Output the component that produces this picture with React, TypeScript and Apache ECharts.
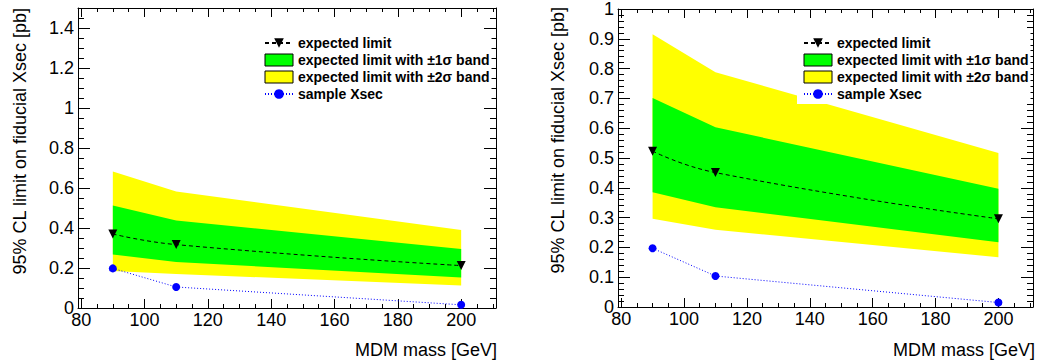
import React, { useEffect, useRef } from "react";
import * as echarts from "echarts";

// ---- data ----
const masses = [90, 110, 200];

// left panel
const expectedL = [0.37, 0.317, 0.212];
const sig1LoL = [0.267, 0.23, 0.153];
const sig1HiL = [0.512, 0.438, 0.295];
const sig2LoL = [0.185, 0.17, 0.113];
const sig2HiL = [0.683, 0.583, 0.39];
const xsecL = [0.198, 0.105, 0.016];

// right panel
const expectedR = [0.523, 0.451, 0.296];
const sig1LoR = [0.385, 0.335, 0.217];
const sig1HiR = [0.701, 0.603, 0.397];
const sig2LoR = [0.296, 0.259, 0.167];
const sig2HiR = [0.915, 0.788, 0.517];
const xsecR = [0.197, 0.104, 0.015];

// axis ticks
const xMajor = [80, 100, 120, 140, 160, 180, 200];
const xMinor = [80, 85, 90, 95, 100, 105, 110, 115, 120, 125, 130, 135, 140, 145, 150, 155, 160, 165, 170, 175, 180, 185, 190, 195, 200, 205, 210];
const yMajorL = [0, 0.2, 0.4, 0.6, 0.8, 1, 1.2, 1.4];
const yMajorR = [0, 0.1, 0.2, 0.3, 0.4, 0.5, 0.6, 0.7, 0.8, 0.9, 1];

const FONT = "'Liberation Sans', Arial, Helvetica, sans-serif";
const NAMES = {
  exp: "expected limit",
  s1: "expected limit with ±1σ band",
  s2: "expected limit with ±2σ band",
  xs: "sample Xsec",
};

function minorTicks(max: number, step: number): number[] {
  const out: number[] = [];
  const n = Math.round(max / step);
  for (let i = 0; i <= n; i++) out.push(Math.round(i * step * 1000) / 1000);
  return out;
}

function makeXAxes(g: number) {
  const base = {
    gridIndex: g,
    type: "value",
    min: 79,
    max: 211,
    splitLine: { show: false },
  };
  return [
    {
      ...base,
      position: "bottom",
      axisLine: { show: true, onZero: false, lineStyle: { color: "#000", width: 1 } },
      axisTick: { show: true, inside: true, length: 9, customValues: xMajor, lineStyle: { color: "#000" } },
      axisLabel: { show: true, customValues: xMajor, color: "#000", fontSize: 18, fontFamily: FONT, margin: 3 },
    },
    {
      ...base,
      position: "bottom",
      axisLine: { show: false, onZero: false },
      axisTick: { show: true, inside: true, length: 4, customValues: xMinor, lineStyle: { color: "#000" } },
      axisLabel: { show: false },
    },
    {
      ...base,
      position: "top",
      axisLine: { show: true, onZero: false, lineStyle: { color: "#000", width: 1 } },
      axisTick: { show: true, inside: true, length: 9, customValues: xMajor, lineStyle: { color: "#000" } },
      axisLabel: { show: false },
    },
    {
      ...base,
      position: "top",
      axisLine: { show: false, onZero: false },
      axisTick: { show: true, inside: true, length: 4, customValues: xMinor, lineStyle: { color: "#000" } },
      axisLabel: { show: false },
    },
  ];
}

function makeYAxes(g: number, max: number, major: number[], minor: number[]) {
  const base = {
    gridIndex: g,
    type: "value",
    min: 0,
    max,
    splitLine: { show: false },
  };
  return [
    {
      ...base,
      position: "left",
      axisLine: { show: true, onZero: false, lineStyle: { color: "#000", width: 1 } },
      axisTick: { show: true, inside: true, length: 12, customValues: major, lineStyle: { color: "#000" } },
      axisLabel: { show: true, customValues: major, color: "#000", fontSize: 18, fontFamily: FONT, margin: 4 },
    },
    {
      ...base,
      position: "left",
      axisLine: { show: false, onZero: false },
      axisTick: { show: true, inside: true, length: 6, customValues: minor, lineStyle: { color: "#000" } },
      axisLabel: { show: false },
    },
    {
      ...base,
      position: "right",
      axisLine: { show: true, onZero: false, lineStyle: { color: "#000", width: 1 } },
      axisTick: { show: true, inside: true, length: 12, customValues: major, lineStyle: { color: "#000" } },
      axisLabel: { show: false },
    },
    {
      ...base,
      position: "right",
      axisLine: { show: false, onZero: false },
      axisTick: { show: true, inside: true, length: 6, customValues: minor, lineStyle: { color: "#000" } },
      axisLabel: { show: false },
    },
  ];
}

function bandSeries(name: string, axisIdx: number, lo: number[], hi: number[], color: string) {
  return {
    name,
    type: "custom",
    xAxisIndex: axisIdx,
    yAxisIndex: axisIdx,
    z: 1,
    itemStyle: { color },
    data: masses.map((m, i) => [m, lo[i], hi[i]]),
    renderItem: (params: any, api: any) => {
      if (params.dataIndex !== 0) return null;
      const upper = masses.map((m, i) => api.coord([m, hi[i]]));
      const lower = masses.map((m, i) => api.coord([m, lo[i]])).reverse();
      return {
        type: "polygon",
        shape: { points: upper.concat(lower) },
        style: { fill: color, stroke: null },
      };
    },
  };
}

function panelSeries(axisIdx: number, exp: number[], s1lo: number[], s1hi: number[], s2lo: number[], s2hi: number[], xs: number[]) {
  return [
    bandSeries(NAMES.s2, axisIdx, s2lo, s2hi, "#ffff00"),
    bandSeries(NAMES.s1, axisIdx, s1lo, s1hi, "#00ff00"),
    {
      name: NAMES.exp,
      type: "line",
      xAxisIndex: axisIdx,
      yAxisIndex: axisIdx,
      z: 3,
      smooth: 0.5,
      data: masses.map((m, i) => [m, exp[i]]),
      symbol: "triangle",
      symbolRotate: 180,
      symbolSize: 9,
      itemStyle: { color: "#000" },
      lineStyle: { color: "#000", width: 1, type: [4, 3] },
    },
    {
      name: NAMES.xs,
      type: "line",
      xAxisIndex: axisIdx,
      yAxisIndex: axisIdx,
      z: 3,
      data: masses.map((m, i) => [m, xs[i]]),
      symbol: "circle",
      symbolSize: 8,
      itemStyle: { color: "#0000ff" },
      lineStyle: { color: "#0000ff", width: 1, type: [1, 2] },
    },
  ];
}

function makeLegend(left: number) {
  return {
    orient: "vertical",
    left,
    top: 32,
    itemWidth: 28,
    itemHeight: 12,
    itemGap: 3,
    padding: [4, 2, 3, 6],
    backgroundColor: "#ffffff",
    selectedMode: false,
    align: "left",
    textStyle: { color: "#000", fontSize: 14, fontWeight: "bold", fontFamily: FONT, padding: [0, 0, 0, 0] },
    data: [
      { name: NAMES.exp },
      { name: NAMES.s1, icon: "rect", itemStyle: { color: "#00ff00", borderColor: "#000", borderWidth: 1 } },
      { name: NAMES.s2, icon: "rect", itemStyle: { color: "#ffff00", borderColor: "#000", borderWidth: 1 } },
      { name: NAMES.xs },
    ],
  };
}

function axisTitles() {
  const ys = [
    { x: 20, y: 8 },
    { x: 558, y: 7 },
  ];
  const xs = [
    { x: 497, y: 350 },
    { x: 1035, y: 350 },
  ];
  const els: any[] = [];
  ys.forEach((p) =>
    els.push({
      type: "text",
      x: p.x,
      y: p.y,
      rotation: Math.PI / 2,
      style: {
        text: "95% CL limit on fiducial Xsec [pb]",
        fill: "#000",
        font: `18px ${FONT}`,
        align: "right",
        verticalAlign: "middle",
      },
    })
  );
  xs.forEach((p) =>
    els.push({
      type: "text",
      x: p.x,
      y: p.y,
      style: {
        text: "MDM mass [GeV]",
        fill: "#000",
        font: `18px ${FONT}`,
        align: "right",
        verticalAlign: "middle",
      },
    })
  );
  return els;
}

export default function App() {
  const ref = useRef<HTMLDivElement>(null);
  useEffect(() => {
    if (!ref.current) return;
    const chart = echarts.init(ref.current, undefined, { renderer: "svg" });
    const option: any = {
      animation: false,
      backgroundColor: "#ffffff",
      grid: [
        { left: 78, top: 8, width: 418, height: 300 },
        { left: 618, top: 7, width: 415, height: 300 },
      ],
      xAxis: [...makeXAxes(0), ...makeXAxes(1)],
      yAxis: [
        ...makeYAxes(0, 1.5, yMajorL, minorTicks(1.5, 0.05)),
        ...makeYAxes(1, 1, yMajorR, minorTicks(1, 0.02)),
      ],
      legend: [makeLegend(258), makeLegend(797)],
      graphic: axisTitles(),
      series: [
        ...panelSeries(0, expectedL, sig1LoL, sig1HiL, sig2LoL, sig2HiL, xsecL),
        ...panelSeries(4, expectedR, sig1LoR, sig1HiR, sig2LoR, sig2HiR, xsecR),
      ],
    };
    chart.setOption(option);
    return () => chart.dispose();
  }, []);
  return (
    <div
      ref={ref}
      style={{ position: "absolute", left: 0, top: 0, width: 1041, height: 363, background: "#fff" }}
    />
  );
}
